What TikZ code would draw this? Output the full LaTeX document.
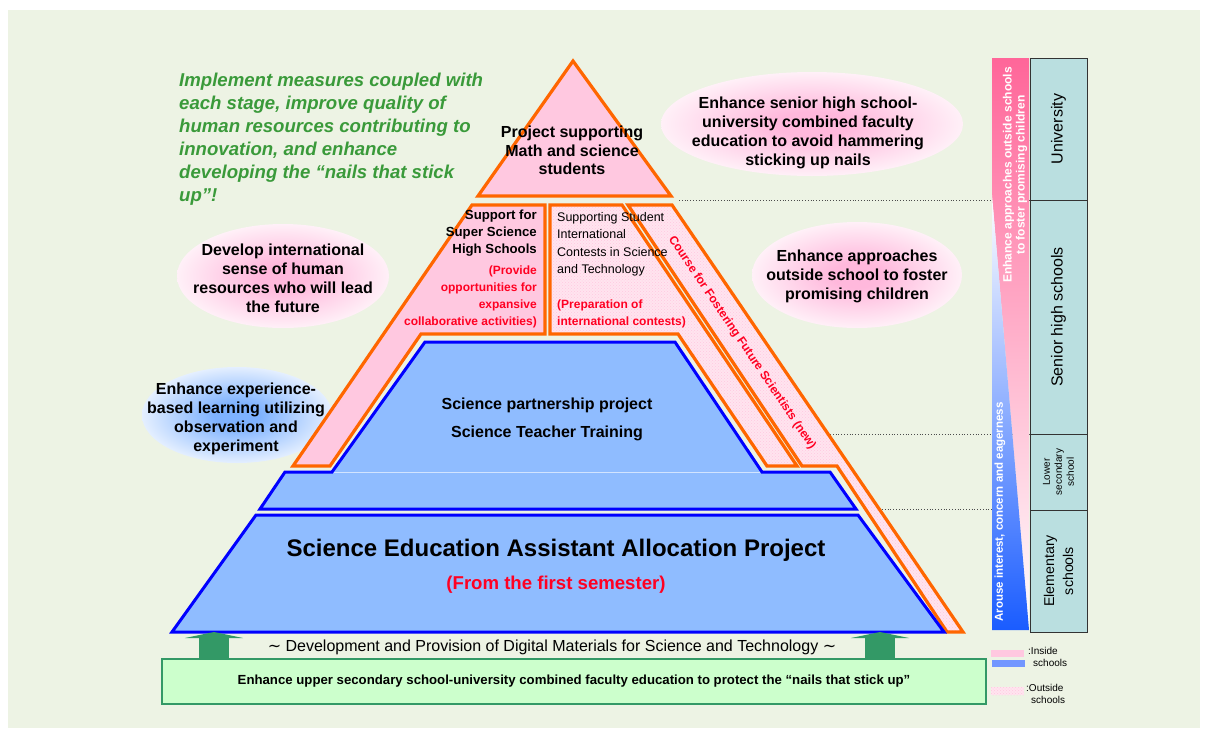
\documentclass[tikz,border=0pt]{standalone}
\usepackage{fontspec}
\setmainfont{Liberation Sans}
\newfontfamily\symfont{DejaVu Sans}
\usetikzlibrary{patterns,arrows.meta}
\definecolor{bg}{HTML}{EDF3E4}
\definecolor{pinkf}{HTML}{FFC8E0}
\definecolor{pinkl}{HTML}{FFE4EF}
\definecolor{orng}{HTML}{FF6600}
\definecolor{bluef}{HTML}{8FBCFF}
\definecolor{blueb}{HTML}{0000FF}
\definecolor{tealf}{HTML}{BADFE0}
\definecolor{grn}{HTML}{339966}
\definecolor{grnf}{HTML}{CCFFCC}
\definecolor{txtgreen}{HTML}{3A9A3A}
\definecolor{redt}{HTML}{FF0022}
\definecolor{barpink}{HTML}{FF6699}
\definecolor{barblue}{HTML}{1A5CFF}
\definecolor{bubpk}{HTML}{FFB8DC}
\definecolor{bubbl}{HTML}{7EB2FF}
\pgfdeclareradialshading{bubpink}{\pgfpointorigin}{color(0bp)=(bubpk); color(6bp)=(bubpk); color(30bp)=(white); color(44bp)=(white); color(50bp)=(bg)}
\pgfdeclareradialshading{bubblue}{\pgfpointorigin}{color(0bp)=(bubbl); color(6bp)=(bubbl); color(30bp)=(white); color(44bp)=(white); color(50bp)=(bg)}
\newcommand\fsz[2]{\fontsize{#1}{#2}\selectfont}
\begin{document}
\begin{tikzpicture}[x=1pt,y=-1pt,
  orgpiece/.style={draw=orng, line width=3.2pt, line join=miter, fill=pinkf},
  orgout/.style={draw=orng, line width=3.2pt, line join=miter, preaction={fill=pinkl}, pattern=crosshatch dots, pattern color=pinkf},
  blupiece/.style={draw=blueb, line width=3pt, line join=miter, fill=bluef},
  bubtxt/.style={font=\bfseries\fsz{16}{19}, align=center, inner sep=0pt, anchor=north},
  redtxt/.style={text=redt, font=\bfseries\fsz{12}{16.7}, inner sep=0pt},
  colbox/.style={draw=black!80, line width=0.9pt, fill=tealf},
  dots/.style={dotted, black!70, line width=0.8pt},
  bigarrow/.style={grn, line width=30pt, -{Triangle[width=58pt,length=6pt]}},
  legtxt/.style={font=\fsz{10}{12}, align=left, inner sep=0pt, anchor=north west}
]
\useasboundingbox (0,0) rectangle (1207,734);
\fill[white] (0,0) rectangle (1207,734);
\fill[bg] (8,10) rectangle (1200,728);

% bubbles
\shade[shading=bubpink] (812,124) ellipse [x radius=151pt, y radius=52pt];
\shade[shading=bubpink] (283,276) ellipse [x radius=106pt, y radius=52pt];
\shade[shading=bubpink] (857,275) ellipse [x radius=105pt, y radius=53pt];
\shade[shading=bubblue] (237,415) ellipse [x radius=95pt, y radius=48pt];

% dotted guide lines
\coordinate (d1a) at (679,200); \coordinate (d1b) at (1030,200);
\coordinate (d2a) at (830,434); \coordinate (d2b) at (1030,434);
\coordinate (d3a) at (882,509); \coordinate (d3b) at (1030,509);
\draw[dots] (d1a) -- (d1b);
\draw[dots] (d2a) -- (d2b);
\draw[dots] (d3a) -- (d3b);

% pyramid
\draw[orgpiece] (573,61) -- (671,196) -- (478,196) -- cycle;
\draw[orgpiece] (472,205) -- (545,205) -- (545,334) -- (421,334) -- (330,466) -- (293,466) -- cycle;
\draw[orgout] (550,205) -- (622,205) -- (797,466) -- (767,466) -- (678,334) -- (550,334) -- cycle;
\draw[orgout] (628,205) -- (672,205) -- (963,632) -- (947,632) -- (837,466) -- (802,466) -- cycle;
\draw[blupiece] (425,342) -- (675,342) -- (762,472) -- (830,472) -- (856,509) -- (260,509) -- (285,472) -- (332,472) -- cycle;
\draw[white!60!bluef, line width=1pt] (334,472) -- (760,472);
\draw[blupiece] (256,515) -- (858,515) -- (944,632) -- (172,632) -- cycle;

% bottom box and arrows
\node[draw=grn, line width=2.5pt, fill=grnf, minimum width=824pt, minimum height=45pt, inner sep=0pt,
      font=\bfseries\fsz{13.2}{15}] (gbox) at (574,681.5) {Enhance upper secondary school-university combined faculty education to protect the “nails that stick up”};
\coordinate (a1) at (214,632);
\coordinate (a2) at (880,632);
\draw[bigarrow] (gbox.north -| a1) -- (a1);
\draw[bigarrow] (gbox.north -| a2) -- (a2);

% texts
\node[anchor=north west, inner sep=0pt, align=left, text=txtgreen, font=\bfseries\itshape\fsz{18.6}{23}] (title) at (179,73)
  {Implement measures coupled with\\each stage, improve quality of\\human resources contributing to\\innovation, and enhance\\developing the “nails that stick\\up”!};
\node[bubtxt] (b1) at (808,97) {Enhance senior high school-\\university combined faculty\\education to avoid hammering\\sticking up nails};
\node[bubtxt] (b2) at (283,244) {Develop international\\sense of human\\resources who will lead\\the future};
\node[bubtxt] (b3) at (857,250) {Enhance approaches\\outside school to foster\\promising children};
\node[bubtxt] (b4) at (236,383) {Enhance experience-\\based learning utilizing\\observation and\\experiment};
\node[bubtxt, font=\bfseries\fsz{16}{18.5}] (tri) at (572,126) {Project supporting\\Math and science\\students};
\node[anchor=north east, inner sep=0pt, align=right, font=\bfseries\fsz{13.2}{16.7}] (ssh) at (537,210) {Support for\\Super Science\\High Schools};
\node[redtxt, anchor=north east, align=right] (sshr) at (537,266) {(Provide\\opportunities for\\expansive\\collaborative activities)};
\node[anchor=north west, inner sep=0pt, align=left, font=\fsz{12.5}{17.4}] (intl) at (557,212) {Supporting Student\\International\\Contests in Science\\and Technology};
\node[redtxt, anchor=north west, align=left] (intlr) at (557,300) {(Preparation of\\international contests)};
\node[text=redt, font=\bfseries\fsz{12}{14}, rotate=-56, inner sep=0pt] (course) at (742,343) {Course for Fostering Future Scientists (new)};
\node[anchor=north, inner sep=0pt, align=center, font=\bfseries\fsz{16}{28}] (part) at (547,398) {Science partnership project\\Science Teacher Training};
\node[anchor=base, inner sep=0pt, font=\bfseries\fsz{24}{28}] (seaap) at (556,556) {Science Education Assistant Allocation Project};
\node[anchor=base, inner sep=0pt, text=redt, font=\bfseries\fsz{18.6}{22}] (sem) at (556,589) {(From the first semester)};
\node[anchor=base, inner sep=0pt, font=\fsz{16}{18}] (digi) at (552,651.5) {{\symfont ∼}\ Development and Provision of Digital Materials for Science and Technology\ {\symfont ∼}};

% right gradient bar
\shade[top color=barpink, bottom color=white] (992,58) -- (1029,58) -- (1029,630) -- (992,195) -- cycle;
\shade[top color=white, bottom color=barblue] (992,195) -- (1029,630) -- (992,630) -- cycle;
\node[rotate=90, align=center, text=white, font=\bfseries\fsz{12}{13}, inner sep=0pt] (bartop) at (1015,175) {Enhance approaches outside schools\\to foster promising children};
\node[rotate=90, text=white, font=\bfseries\fsz{11.5}{13}, inner sep=0pt] (barbot) at (1000,512) {Arouse interest, concern and eagerness};

% school levels column
\draw[colbox] (1030,58) rectangle (1087,200);
\draw[colbox] (1030,200) rectangle (1087,434);
\draw[colbox] (1030,434) rectangle (1087,510);
\draw[colbox] (1030,510) rectangle (1087,632);
\node[rotate=90, font=\fsz{16}{18}] (univ) at (1058.5,129) {University};
\node[rotate=90, font=\fsz{16}{18}] (senior) at (1058.5,317) {Senior high schools};
\node[rotate=90, align=center, font=\fsz{10}{12}] (lower) at (1058.5,472) {Lower\\secondary\\school};
\node[rotate=90, align=center, font=\fsz{14.2}{19}] (elem) at (1058.5,571) {Elementary\\schools};

% legend
\fill[pinkf] (991,650) rectangle (1024,657);
\fill[bluef!80!blue] (992,660) rectangle (1025,667);
\path[fill=pinkl, postaction={pattern=crosshatch dots, pattern color=pinkf}] (991,687) rectangle (1024,695);
\node[legtxt] (leg1) at (1028,647) {:Inside\\\hspace*{5pt}schools};
\node[legtxt] (leg2) at (1026,684) {:Outside\\\hspace*{5pt}schools};
\end{tikzpicture}
\end{document}
